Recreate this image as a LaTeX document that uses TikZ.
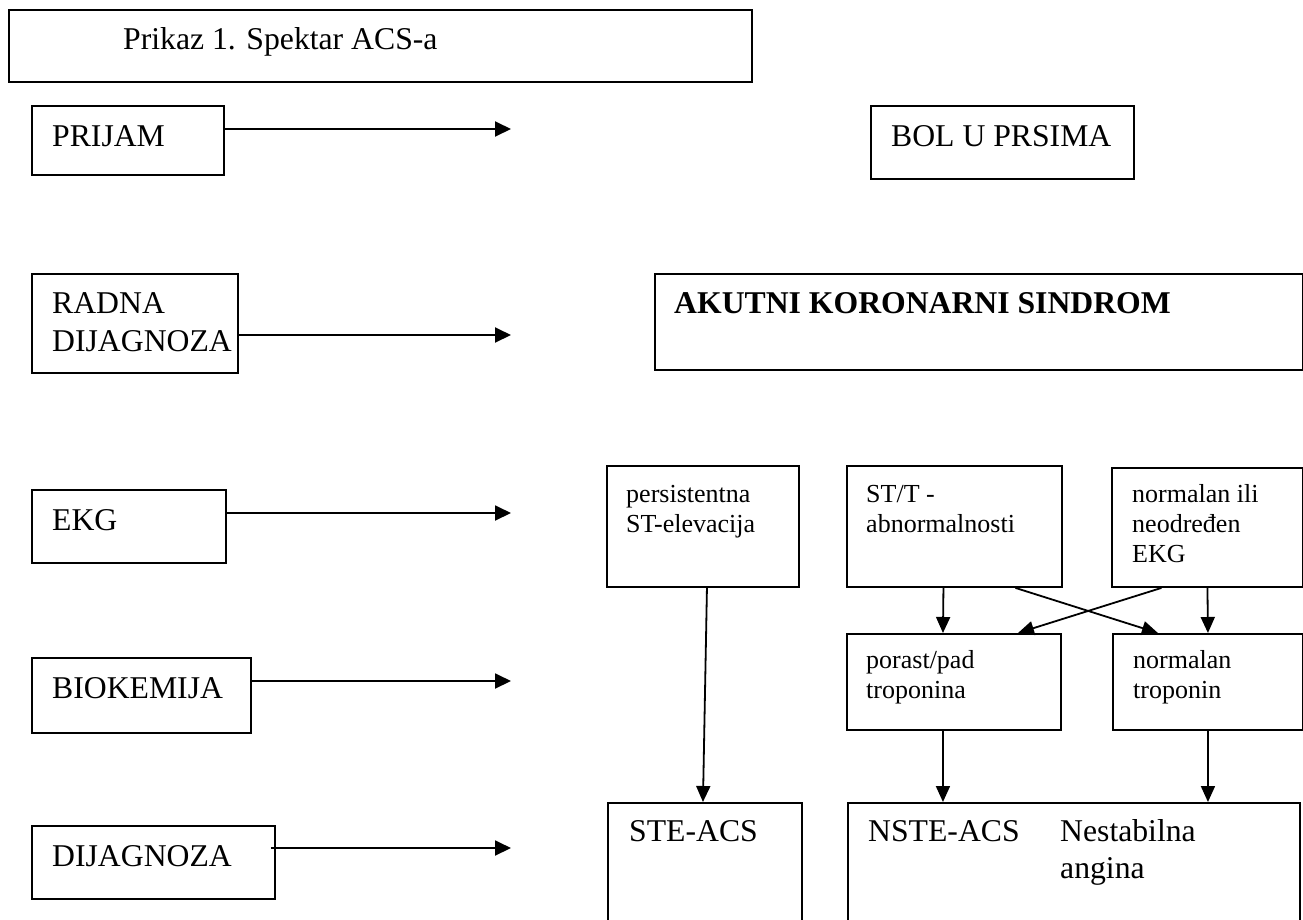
\documentclass[tikz,border=0pt]{standalone}
\usepackage{fontspec}
\setmainfont{Liberation Serif}
\usetikzlibrary{arrows.meta}
\begin{document}
\begin{tikzpicture}[x=1pt,y=-1pt,
  box/.style={draw, line width=1.9pt, inner sep=0pt, anchor=north west},
  big/.style={inner sep=0pt, anchor=base west, font=\fontsize{31.7}{38}\selectfont},
  small/.style={inner sep=0pt, anchor=base west, font=\fontsize{26}{30}\selectfont},
  larrow/.style={line width=1.9pt, -{Triangle[length=16pt,width=15pt]}},
  conn/.style={line width=1.8pt, -{Triangle[length=16pt,width=14pt]}}]
\useasboundingbox (0,0) rectangle (1303,919);
\fill[white] (0,0) rectangle (1303,919);
\clip (0,0) rectangle (1303,919);

% boxes
\node[box, minimum width=743pt, minimum height=72pt] (title) at (8,9) {};
\node[box, minimum width=192pt, minimum height=69pt] (prijam) at (31,105) {};
\node[box, minimum width=263pt, minimum height=73pt] (bol) at (870,105) {};
\node[box, minimum width=206pt, minimum height=99pt] (radna) at (31,273) {};
\node[box, minimum width=648pt, minimum height=96pt] (akutni) at (654,273) {};
\node[box, minimum width=194pt, minimum height=73pt] (ekg) at (31,489) {};
\node[box, minimum width=192pt, minimum height=121pt] (persist) at (606,465) {};
\node[box, minimum width=215pt, minimum height=121pt] (stt) at (846,465) {};
\node[box, minimum width=191pt, minimum height=119pt] (normili) at (1111,467) {};
\node[box, minimum width=219pt, minimum height=75pt] (bio) at (31,657) {};
\node[box, minimum width=214pt, minimum height=96pt] (porast) at (846,633) {};
\node[box, minimum width=190pt, minimum height=96pt] (normtrop) at (1112,633) {};
\node[box, minimum width=243pt, minimum height=73pt] (dij) at (31,825) {};
\node[box, minimum width=194pt, minimum height=140pt] (ste) at (607,802) {};
\node[box, minimum width=452pt, minimum height=140pt] (nste) at (847,802) {};

% texts
\node[big] (titleT) at (123,49) {Prikaz 1. Spektar ACS-a};
\node[big] (prijamT) at (52,146) {PRIJAM};
\node[big] (bolT) at (891,146) {BOL U PRSIMA};
\node[big] (radnaT1) at (52,313) {RADNA};
\node[big] (radnaT2) at (52,351) {DIJAGNOZA};
\node[big, font=\fontsize{31.7}{38}\selectfont\bfseries] (akutniT) at (674,313) {AKUTNI KORONARNI SINDROM};
\node[big] (ekgT) at (52,530) {EKG};
\node[small] (persistT1) at (626,502) {persistentna};
\node[small] (persistT2) at (626,532) {ST-elevacija};
\node[small] (sttT1) at (866,502) {ST/T -};
\node[small] (sttT2) at (866,532) {abnormalnosti};
\node[small] (normiliT1) at (1132,502) {normalan ili};
\node[small] (normiliT2) at (1132,532) {neodređen};
\node[small] (normiliT3) at (1132,562) {EKG};
\node[big] (bioT) at (52,698) {BIOKEMIJA};
\node[small] (porastT1) at (866,668) {porast/pad};
\node[small] (porastT2) at (866,698) {troponina};
\node[small] (normtropT1) at (1133,668) {normalan};
\node[small] (normtropT2) at (1133,698) {troponin};
\node[big] (dijT) at (52,866) {DIJAGNOZA};
\node[big] (steT) at (629,841) {STE-ACS};
\node[big] (nsteT1) at (868,841) {NSTE-ACS};
\node[big] (nsteT2) at (1060,841) {Nestabilna};
\node[big] (nsteT3) at (1060,878) {angina};

% left arrows
\coordinate (tip1) at (511,129);
\coordinate (tip2) at (511,335);
\coordinate (tip3) at (511,513);
\coordinate (tip4) at (511,681);
\coordinate (tip5) at (511,848);
\draw[larrow] (prijam.east |- tip1) -- (tip1);
\draw[larrow] (radna.east |- tip2) -- (tip2);
\draw[larrow] (ekg.east |- tip3) -- (tip3);
\draw[larrow] (bio.east |- tip4) -- (tip4);
\draw[larrow] ([xshift=-5pt]dij.east |- tip5) -- (tip5);

% diagram connectors
\draw[conn] ([xshift=4pt]persist.south) -- ([xshift=-2pt]ste.north);
\draw[conn] ([xshift=-11pt]stt.south) -- ([xshift=-11pt]porast.north);
\draw[conn] (normili.south) -- (normtrop.north);
\draw[conn] ([xshift=61pt]stt.south) -- ([xshift=-50pt]normtrop.north);
\draw[conn] ([xshift=-46pt]normili.south) -- ([xshift=64pt]porast.north);
\draw[conn] ([xshift=-11pt]porast.south) -- ([xshift=-11pt]porast.south |- nste.north);
\draw[conn] (normtrop.south) -- (normtrop.south |- nste.north);
\end{tikzpicture}
\end{document}
